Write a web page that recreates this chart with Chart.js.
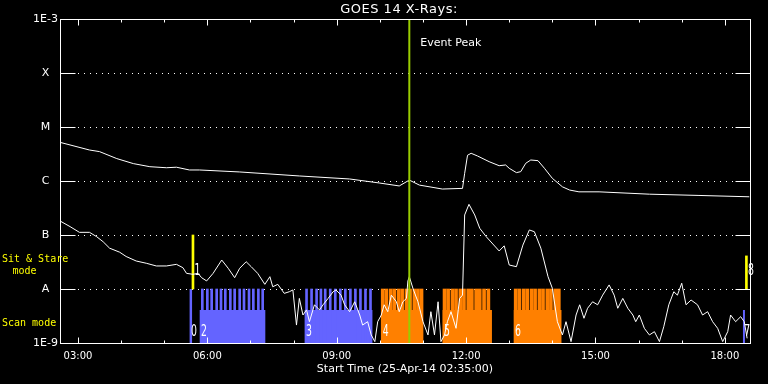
<!DOCTYPE html>
<html>
<head>
<meta charset="utf-8">
<script src="https://cdn.jsdelivr.net/npm/chart.js@4/dist/chart.umd.min.js"></script>
<style>
  html, body { margin: 0; background: #000; }
  #wrap { width: 768px; height: 384px; }
</style>
</head>
<body>
<div id="wrap"><canvas id="goes"></canvas></div>
<script>
// time axis: 25-Apr-14, from 02:35 for 16 hours
const START_TIME = '02:35';
const END_TIME = '18:35';
const EVENT_PEAK = '10:41';

// y axis (log flux) ticks
const yTicks = [1e-9, 1e-8, 1e-7, 1e-6, 1e-5, 1e-4, 1e-3];
const yLabels = ['1E-9', 'A', 'B', 'C', 'M', 'X', '1E-3'];
const gridLevels = [1e-8, 1e-7, 1e-6, 1e-5, 1e-4];

// GOES long channel (1-8 A)
const longTimes = ['02:35', '03:16', '03:30', '03:54', '04:17', '04:40', '05:03', '05:17', '05:35', '05:49',
  '06:45', '08:08', '09:18', '09:59', '10:27', '10:41', '10:55', '11:14', '11:27', '11:55',
  '11:58', '12:02', '12:07', '12:16', '12:32', '12:46', '12:55', '13:00', '13:10', '13:16',
  '13:23', '13:30', '13:40', '13:49', '14:00', '14:14', '14:24', '14:37', '15:05', '16:15',
  '17:24', '18:34'];
const longFlux = [5.2e-6, 3.75e-6, 3.5e-6, 2.6e-6, 2.1e-6, 1.84e-6, 1.76e-6, 1.8e-6, 1.6e-6, 1.6e-6,
  1.47e-6, 1.24e-6, 1.09e-6, 9.2e-7, 8.1e-7, 1.04e-6, 8.4e-7, 7.6e-7, 7.1e-7, 7.3e-7,
  1.39e-6, 3.0e-6, 3.26e-6, 2.9e-6, 2.28e-6, 1.92e-6, 1.98e-6, 1.72e-6, 1.43e-6, 1.49e-6,
  2.13e-6, 2.45e-6, 2.38e-6, 1.72e-6, 1.12e-6, 7.8e-7, 6.8e-7, 6.3e-7, 6.3e-7, 5.7e-7,
  5.4e-7, 5.1e-7];

// GOES short channel (0.5-4 A)
const shortTimes = ['02:35', '02:49', '03:02', '03:16', '03:26', '03:35', '03:44', '03:58', '04:07', '04:21',
  '04:35', '04:49', '05:03', '05:17', '05:26', '05:31', '05:40', '05:47', '05:52', '05:59',
  '06:08', '06:20', '06:29', '06:38', '06:45', '06:54', '07:01', '07:10', '07:20', '07:27',
  '07:31', '07:38', '07:47', '07:54', '07:59', '08:04', '08:08', '08:13', '08:18', '08:22',
  '08:29', '08:36', '08:41', '08:48', '08:55', '08:59', '09:06', '09:11', '09:18', '09:25',
  '09:32', '09:36', '09:43', '09:48', '09:53', '09:57', '10:02', '10:06', '10:11', '10:16',
  '10:23', '10:27', '10:32', '10:37', '10:39', '10:41', '10:46', '10:53', '11:00', '11:07',
  '11:11', '11:16', '11:21', '11:25', '11:30', '11:34', '11:39', '11:46', '11:51', '11:55',
  '11:58', '12:04', '12:12', '12:19', '12:28', '12:46', '12:53', '13:00', '13:10', '13:19',
  '13:28', '13:35', '13:44', '13:54', '14:00', '14:07', '14:14', '14:19', '14:26', '14:33',
  '14:38', '14:44', '14:49', '14:56', '15:03', '15:10', '15:19', '15:26', '15:31', '15:38',
  '15:45', '15:52', '15:56', '16:01', '16:08', '16:15', '16:22', '16:29', '16:35', '16:42',
  '16:49', '16:54', '17:00', '17:06', '17:13', '17:22', '17:29', '17:36', '17:43', '17:50',
  '17:57', '18:04', '18:08', '18:15', '18:22', '18:27', '18:31'];
const shortFlux = [1.82e-7, 1.43e-7, 1.12e-7, 1.12e-7, 9.3e-8, 7.5e-8, 5.7e-8, 4.8e-8, 4.0e-8, 3.3e-8,
  3.0e-8, 2.67e-8, 2.67e-8, 2.86e-8, 2.48e-8, 1.95e-8, 1.87e-8, 1.95e-8, 1.62e-8, 1.41e-8,
  1.95e-8, 3.44e-8, 2.42e-8, 1.62e-8, 2.42e-8, 3.2e-8, 2.59e-8, 1.95e-8, 1.22e-8, 1.69e-8,
  1.1e-8, 1.22e-8, 8.3e-9, 8.9e-9, 9.6e-9, 2.15e-9, 6.7e-9, 3.3e-9, 4.1e-9, 2.48e-9,
  5.1e-9, 4.1e-9, 5.1e-9, 6.7e-9, 8.9e-9, 9.6e-9, 7.7e-9, 5.1e-9, 3.8e-9, 5.8e-9,
  3.3e-9, 2.15e-9, 2.48e-9, 1.41e-9, 1.06e-9, 2.48e-9, 3.3e-9, 5.1e-9, 3.8e-9, 7.7e-9,
  5.8e-9, 3.8e-9, 5.8e-9, 6.7e-9, 1.41e-8, 1.69e-8, 1.03e-8, 5.8e-9, 2.48e-9, 1.41e-9,
  3.8e-9, 1.41e-9, 5.8e-9, 1.06e-9, 1.41e-9, 2.48e-9, 3.8e-9, 1.87e-9, 6.7e-9, 7.7e-9,
  2.35e-7, 3.7e-7, 2.35e-7, 1.33e-7, 9.3e-8, 5.06e-8, 6.3e-8, 2.78e-8, 2.59e-8, 6.5e-8,
  1.24e-7, 1.15e-7, 5.7e-8, 1.69e-8, 1.03e-8, 2.48e-9, 1.41e-9, 2.48e-9, 1.06e-9, 3.3e-9,
  5.1e-9, 2.87e-9, 4.4e-9, 5.8e-9, 5.1e-9, 7.7e-9, 1.19e-8, 7.7e-9, 4.4e-9, 6.7e-9,
  4.4e-9, 3.3e-9, 2.48e-9, 3.3e-9, 1.87e-9, 1.41e-9, 1.62e-9, 1.06e-9, 2.0e-9, 5.1e-9,
  8.9e-9, 7.7e-9, 1.28e-8, 5.1e-9, 6.25e-9, 5.1e-9, 3.3e-9, 3.8e-9, 2.48e-9, 1.87e-9,
  1.06e-9, 1.62e-9, 3.3e-9, 2.48e-9, 3.07e-9, 2.48e-9, 1.22e-9];

// IRIS observations: id, kind, start, end, height of the block
const obsIds = ['0', '1', '2', '3', '4', '5', '6', '7', '8'];
const obsKind = ['scanA', 'stare', 'scanA', 'scanA', 'scanB', 'scanB', 'scanB', 'scanA', 'stare'];
const obsStart = ['05:35', '05:40', '05:49', '08:15', '10:02', '11:27', '13:06', '18:25', '18:30'];
const obsEnd = ['05:39', '05:40', '07:21', '09:50', '11:00', '12:36', '14:13', '18:28', '18:30'];
const obsTop = [1e-8, 1e-7, 4.1e-9, 4.1e-9, 4.1e-9, 4.1e-9, 4.1e-9, 4.1e-9, 4.1e-8];

// single exposures inside the scan runs
const frames2 = ['05:53', '06:00', '06:06', '06:13', '06:19', '06:25', '06:32', '06:38', '06:45', '06:51',
  '06:58', '07:04', '07:11', '07:17'];
const frames3 = ['08:18', '08:25', '08:32', '08:38', '08:44', '08:51', '08:58', '09:05', '09:12', '09:19',
  '09:26', '09:33', '09:40', '09:47'];
const frames4 = ['10:04', '10:09', '10:15', '10:20', '10:26', '10:31', '10:37', '10:42', '10:48', '10:53', '10:58'];
const frames5 = ['11:30', '11:35', '11:41', '11:46', '11:52', '11:57', '12:03', '12:08', '12:14', '12:19', '12:25', '12:31'];
const frames6 = ['13:09', '13:14', '13:20', '13:25', '13:31', '13:36', '13:42', '13:47', '13:53', '13:58', '14:04', '14:09'];
const FRAME_LOW = 1e-9;
const FRAME_HIGH = 1e-8;

const COLORS = { scanA: '#6464ff', scanB: '#ff8000', stare: '#ffff00' };
const WHITE = '#ffffff';
const GREEN = '#99cc00';

function hrs(t) {
  const [h, m] = t.split(':').map(Number);
  return h + m / 60;
}

function pairs(times, vals) {
  return times.map((t, i) => ({ x: hrs(t), y: vals[i] }));
}

function framesData(times) {
  return times.map(t => ({ x: hrs(t), y: [FRAME_LOW, FRAME_HIGH] }));
}

const datasets = [];

datasets.push({
  type: 'line',
  data: [{ x: hrs(EVENT_PEAK), y: 1e-9 }, { x: hrs(EVENT_PEAK), y: 1e-3 }],
  borderColor: GREEN, borderWidth: 2, pointRadius: 0, order: 0
});
datasets.push({
  type: 'line', data: pairs(longTimes, longFlux),
  borderColor: WHITE, borderWidth: 1, pointRadius: 0, tension: 0, order: 1
});
datasets.push({
  type: 'line', data: pairs(shortTimes, shortFlux),
  borderColor: WHITE, borderWidth: 1, pointRadius: 0, tension: 0, order: 1
});

[[frames2, 'scanA'], [frames3, 'scanA'], [frames4, 'scanB'], [frames5, 'scanB'], [frames6, 'scanB']]
  .forEach(([fr, kind]) => {
    datasets.push({
      type: 'bar', data: framesData(fr), grouped: false,
      barThickness: kind === 'scanB' ? 3 : 2,
      backgroundColor: COLORS[kind], borderWidth: 0, order: 3
    });
  });

obsIds.forEach((id, i) => {
  if (obsKind[i] === 'stare') {
    datasets.push({
      type: 'bar', data: [{ x: hrs(obsStart[i]), y: [1e-8, obsTop[i]] }], grouped: false,
      barThickness: 2, backgroundColor: COLORS.stare, borderWidth: 0, order: 3
    });
  } else {
    datasets.push({
      type: 'line',
      data: [{ x: hrs(obsStart[i]), y: obsTop[i] }, { x: hrs(obsEnd[i]), y: obsTop[i] }],
      borderWidth: 0, pointRadius: 0, fill: 'start',
      backgroundColor: COLORS[obsKind[i]], order: 4
    });
  }
});

const FONT = '"DejaVu Sans", sans-serif';
const MONO = '"DejaVu Sans Mono", monospace';

const decor = {
  id: 'decor',
  beforeDatasetsDraw(chart) {
    const { ctx, chartArea: a, scales: { y } } = chart;
    ctx.save();
    ctx.strokeStyle = WHITE;
    ctx.lineWidth = 1;
    ctx.setLineDash([1, 5]);
    gridLevels.forEach(v => {
      const py = Math.round(y.getPixelForValue(v)) + 0.5;
      ctx.beginPath();
      ctx.moveTo(a.left + 18, py);
      ctx.lineTo(a.right - 15, py);
      ctx.stroke();
    });
    ctx.restore();
  },
  afterDatasetsDraw(chart) {
    const { ctx, chartArea: a, scales: { x, y } } = chart;
    const L = Math.round(a.left) + 0.5, R = Math.round(a.right) + 0.5;
    const T = Math.round(a.top) + 0.5, B = Math.round(a.bottom) + 0.5;
    ctx.save();
    ctx.strokeStyle = WHITE;
    ctx.lineWidth = 1;
    ctx.strokeRect(L, T, R - L, B - T);
    ctx.beginPath();
    gridLevels.forEach(v => {
      const py = Math.round(y.getPixelForValue(v)) + 0.5;
      ctx.moveTo(L, py); ctx.lineTo(L + 15, py);
      ctx.moveTo(R - 15, py); ctx.lineTo(R, py);
    });
    x.ticks.forEach(t => {
      const px = Math.round(x.getPixelForValue(t.value)) + 0.5;
      const len = t.value % 3 === 0 ? 6 : 3;
      ctx.moveTo(px, B); ctx.lineTo(px, B - len);
      ctx.moveTo(px, T); ctx.lineTo(px, T + len);
    });
    ctx.stroke();

    // observation numbers
    ctx.fillStyle = WHITE;
    ctx.textBaseline = 'middle';
    ctx.textAlign = 'left';
    ctx.font = '15px ' + FONT;
    obsIds.forEach((id, i) => {
      const px = x.getPixelForValue(hrs(obsStart[i])) + 1.5;
      const py = y.getPixelForValue(obsKind[i] === 'stare' ? 2.15e-8 : 1.6e-9);
      ctx.save();
      ctx.translate(px, py);
      ctx.scale(0.62, 1);
      ctx.fillText(id, 0, 0);
      ctx.restore();
    });

    // event label
    ctx.font = '11px ' + FONT;
    ctx.fillText('Event Peak', x.getPixelForValue(hrs(EVENT_PEAK)) + 11, 43);

    // mode labels
    ctx.fillStyle = '#ffff00';
    ctx.font = '10px ' + MONO;
    ctx.fillText('Sit & Stare', 2, 259);
    ctx.textAlign = 'center';
    ctx.fillText('mode', 24.5, 271);
    ctx.textAlign = 'left';
    ctx.fillText('Scan mode', 2, 323);

    // title
    ctx.fillStyle = WHITE;
    ctx.textAlign = 'center';
    ctx.font = '13px ' + FONT;
    ctx.letterSpacing = '0.5px';
    ctx.fillText('GOES 14 X-Rays:', 399, 10);
    ctx.restore();
  }
};

new Chart(document.getElementById('goes'), {
  type: 'line',
  data: { datasets },
  options: {
    responsive: true,
    maintainAspectRatio: false,
    animation: false,
    devicePixelRatio: 1,
    layout: { padding: { top: 19, right: 18 } },
    plugins: { legend: { display: false }, tooltip: { enabled: false } },
    scales: {
      x: {
        type: 'linear',
        offset: false,
        min: hrs(START_TIME),
        max: hrs(END_TIME),
        grid: { display: false, drawTicks: false, offset: false },
        border: { display: false },
        afterBuildTicks: s => {
          s.ticks = [];
          for (let h = Math.ceil(s.min); h <= Math.floor(s.max); h++) s.ticks.push({ value: h });
        },
        afterFit: s => { s.height = 41; },
        ticks: {
          autoSkip: false, maxRotation: 0, padding: 7,
          color: WHITE, font: { family: FONT, size: 10 },
          callback: v => v % 3 === 0 ? String(v).padStart(2, '0') + ':00' : ''
        },
        title: {
          display: true, text: 'Start Time (25-Apr-14 02:35:00)',
          color: WHITE, font: { family: FONT, size: 11 }, padding: { top: 0, bottom: 8 }
        }
      },
      y: {
        type: 'logarithmic',
        offset: false,
        min: 1e-9,
        max: 1e-3,
        grid: { display: false, drawTicks: false },
        border: { display: false },
        afterBuildTicks: s => { s.ticks = yTicks.map(v => ({ value: v })); },
        afterFit: s => { s.width = 60; },
        ticks: {
          padding: 2, crossAlign: 'center',
          color: WHITE, font: { family: FONT, size: 11 },
          callback: v => yLabels[yTicks.indexOf(v)]
        }
      }
    }
  },
  plugins: [decor]
});
</script>
</body>
</html>
